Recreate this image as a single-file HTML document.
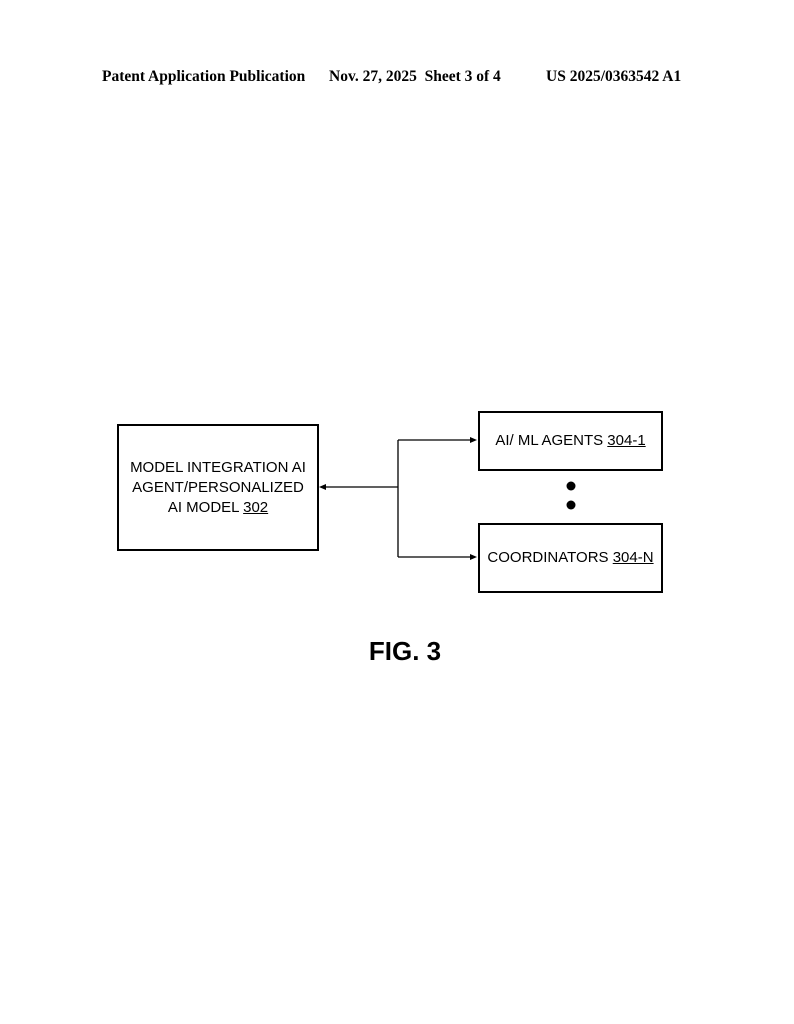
<!DOCTYPE html>
<html><head><style>
body{margin:0;width:794px;height:1024px;background:#fff;position:relative;overflow:hidden}
.h{position:absolute;top:68px;font:bold 15.5px "Liberation Serif",serif;white-space:nowrap}
.b{position:absolute;border:2px solid #000;box-sizing:border-box;display:flex;align-items:center;justify-content:center;text-align:center;font:15px "Liberation Sans",sans-serif;line-height:20px}
u{text-decoration:underline}
</style></head><body>
<div class="h" style="left:102px">Patent Application Publication</div>
<div class="h" style="left:329px">Nov. 27, 2025&nbsp; Sheet 3 of 4</div>
<div class="h" style="left:546px">US 2025/0363542 A1</div>
<div class="b" style="left:117px;top:424px;width:202px;height:127px"><span>MODEL INTEGRATION AI<br>AGENT/PERSONALIZED<br>AI MODEL <u>302</u></span></div>
<div class="b" style="left:478px;top:411px;width:185px;height:60px"><span>AI/ ML AGENTS <u>304-1</u></span></div>
<div class="b" style="left:478px;top:523px;width:185px;height:70px"><span>COORDINATORS <u>304-N</u></span></div>
<svg style="position:absolute;left:0;top:0" width="794" height="1024">
<g stroke="#000" stroke-width="1.3" fill="none">
<path d="M398 440V557M398 487H323M398 440H472M398 557H472"/>
</g>
<polygon points="319,487 326,484 326,490" fill="#000"/>
<polygon points="477,440 470,437 470,443" fill="#000"/>
<polygon points="477,557 470,554 470,560" fill="#000"/>
<circle cx="571" cy="486" r="4.5"/><circle cx="571" cy="505" r="4.5"/>
</svg>
<div style="position:absolute;left:0;width:810px;top:636px;text-align:center;font:bold 26px 'Liberation Sans',sans-serif">FIG. 3</div>
</body></html>
